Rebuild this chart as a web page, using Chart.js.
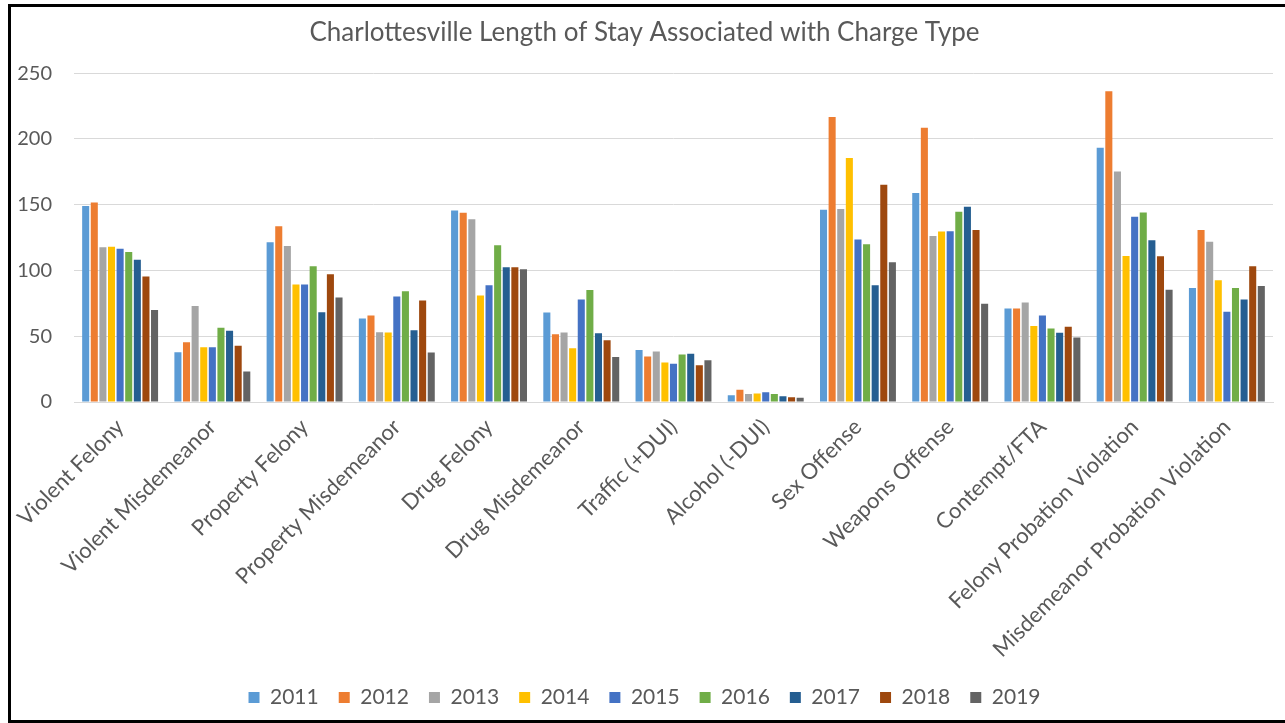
<!DOCTYPE html>
<html>
<head>
<meta charset="utf-8">
<script src="https://cdn.jsdelivr.net/npm/chart.js@4"></script>
<style>
    body { margin: 0; background: #fff; overflow: hidden; }
    #wrap { position: absolute; left: 0; top: 0; width: 1285px; height: 723px; }
    #frame {
        position: absolute; left: 8px; top: 4px; width: 1400px; height: 719px;
        box-sizing: border-box; border: 3px solid #000; pointer-events: none;
    }
</style>
</head>
<body>
<div id="wrap"><canvas id="myChart" width="1285" height="723"></canvas></div>
<div id="frame"></div>
<script>
const categories = [
    'Violent Felony', 'Violent Misdemeanor', 'Property Felony', 'Property Misdemeanor',
    'Drug Felony', 'Drug Misdemeanor', 'Traffic (+DUI)', 'Alcohol (-DUI)',
    'Sex Offense', 'Weapons Offense', 'Contempt/FTA', 'Felony Probation Violation',
    'Misdemeanor Probation Violation'
];
const years = ['2011', '2012', '2013', '2014', '2015', '2016', '2017', '2018', '2019'];
const yTicks = [0, 50, 100, 150, 200, 250];

const y2011 = [149.1, 37.9, 121.4, 63.5, 145.6, 68.1, 39.6, 5.1, 146.1, 159.0, 71.1, 193.3, 86.6];
const y2012 = [151.7, 45.5, 133.6, 65.8, 143.8, 51.6, 34.6, 9.4, 216.7, 208.6, 71.1, 236.3, 130.8];
const y2013 = [117.6, 72.9, 118.6, 53.1, 139.0, 52.8, 38.4, 6.1, 146.8, 126.3, 75.7, 175.3, 121.9];
const y2014 = [118.1, 41.7, 89.4, 52.8, 81.0, 40.9, 30.0, 6.4, 185.5, 129.6, 57.7, 111.0, 92.5];
const y2015 = [116.6, 41.7, 89.4, 80.3, 88.7, 78.0, 29.0, 7.4, 123.5, 129.8, 65.8, 140.8, 68.6];
const y2016 = [114.1, 56.4, 103.2, 84.3, 119.2, 85.1, 36.1, 6.1, 119.9, 144.6, 55.9, 144.1, 86.6];
const y2017 = [108.2, 54.1, 68.3, 54.6, 102.4, 52.3, 36.6, 4.3, 88.7, 148.4, 52.6, 123.0, 78.0];
const y2018 = [95.5, 42.7, 97.1, 77.2, 102.4, 47.0, 27.9, 3.6, 165.1, 130.8, 57.2, 110.8, 103.2];
const y2019 = [69.9, 23.1, 79.5, 37.6, 100.9, 34.3, 31.8, 3.3, 106.2, 74.7, 49.0, 85.4, 88.2];

const seriesValues = [y2011, y2012, y2013, y2014, y2015, y2016, y2017, y2018, y2019];
const colors = ['#5B9BD5', '#ED7D31', '#A5A5A5', '#FFC000', '#4472C4', '#70AD47', '#255E91', '#9E480E', '#636363'];

const textColor = '#595959';
const fontFamily = 'Lato, "Open Sans", sans-serif';

function getDatasets() {
    let datasets = [];
    for (let i = 0; i < years.length; i++) {
        datasets.push({
            label: years[i],
            data: seriesValues[i],
            backgroundColor: colors[i],
            borderWidth: 0,
            barPercentage: 0.82,
            categoryPercentage: 0.84
        });
    }
    return datasets;
}

const ctx = document.getElementById('myChart');
const myChart = new Chart(ctx, {
    type: 'bar',
    data: {
        labels: categories,
        datasets: getDatasets()
    },
    options: {
        responsive: false,
        animation: false,
        layout: {
            padding: { left: 16, right: 12, top: 0, bottom: 5 }
        },
        scales: {
            y: {
                min: 0,
                max: 250,
                afterBuildTicks: (axis) => {
                    axis.ticks = yTicks.map(v => ({ value: v }));
                },
                afterFit: (scale) => {
                    scale.width = 58;
                },
                ticks: {
                    font: { size: 20, family: fontFamily },
                    color: textColor,
                    padding: 22
                },
                grid: {
                    color: '#d9d9d9',
                    drawTicks: false
                },
                border: { display: false }
            },
            x: {
                afterFit: (scale) => {
                    // room for the long rotated labels, like the original
                    scale.height = 265;
                    scale.paddingLeft = 0;
                    scale.paddingRight = 0;
                },
                ticks: {
                    font: { size: 22, family: fontFamily },
                    color: textColor,
                    minRotation: 45,
                    maxRotation: 45,
                    autoSkip: false,
                    padding: 4
                },
                grid: { display: false },
                border: { display: true, color: '#d9d9d9', width: 1 }
            }
        },
        plugins: {
            title: {
                display: true,
                text: 'Charlottesville Length of Stay Associated with Charge Type',
                color: textColor,
                font: { size: 26, family: fontFamily, weight: 'normal' },
                padding: { top: 17, bottom: 25 }
            },
            legend: {
                position: 'bottom',
                labels: {
                    font: { size: 21, family: fontFamily },
                    color: textColor,
                    boxWidth: 11,
                    boxHeight: 11,
                    padding: 20
                }
            },
            tooltip: { enabled: false }
        }
    }
});
</script>
</body>
</html>
